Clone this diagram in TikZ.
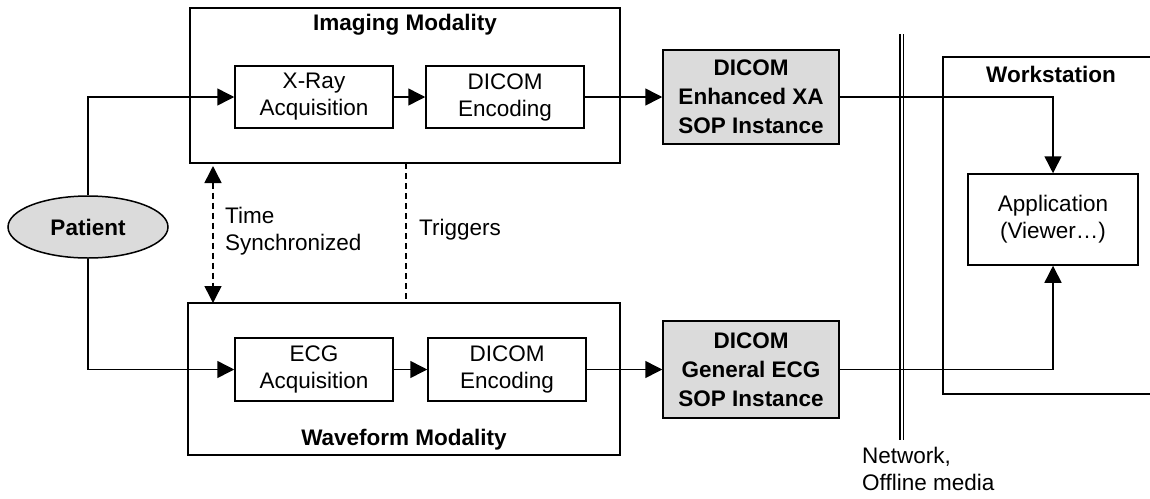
\documentclass[tikz,border=0pt]{standalone}
\usepackage{fontspec}
\setmainfont{Liberation Sans}
\usetikzlibrary{shapes.geometric,arrows.meta}
\begin{document}
\begin{tikzpicture}[x=1pt,y=-1pt,
  >={Triangle[length=17pt,width=17pt]},
  every node/.style={font=\fontsize{22.5}{27}\selectfont},
  proc/.style={draw,line width=1.5pt,minimum width=158pt,minimum height=62pt,align=center,inner sep=2pt},
  sop/.style={draw,line width=1.5pt,fill=black!14,minimum width=176pt,align=center,inner sep=2pt,
    font=\fontsize{22.5}{29}\selectfont\bfseries},
  frame/.style={draw,line width=1.5pt,inner sep=0pt},
  title/.style={font=\fontsize{22.5}{27}\selectfont\bfseries},
  lbl/.style={anchor=west,align=left,inner sep=0pt},
  conn/.style={line width=1.5pt,->},
  sync/.style={line width=1.5pt,dash pattern=on 6pt off 4pt},
]
\useasboundingbox (0,0) rectangle (1150,498);

% modality frames
\node[frame,minimum width=430pt,minimum height=155pt] (imaging) at (405,85.5) {};
\node[frame,minimum width=432pt,minimum height=152pt] (waveform) at (404,379) {};
\node[title] (imgtitle) at (405,25) {Imaging Modality};
\node[title] (wavtitle) at (404,440) {Waveform Modality};

% processing steps
\node[proc] (xray) at (314,97) {X-Ray\\Acquisition};
\node[proc] (enc1) at (505,97) {DICOM\\Encoding};
\node[proc,minimum height=63pt] (ecg) at (314,369.5) {ECG\\Acquisition};
\node[proc,minimum height=63pt] (enc2) at (507,369.5) {DICOM\\Encoding};

% SOP instances
\node[sop,minimum height=94pt] (xa) at (751,97) {DICOM\\Enhanced XA\\SOP Instance};
\node[sop,minimum height=97pt] (gecg) at (751,369.5) {DICOM\\General ECG\\SOP Instance};

% patient
\node[ellipse,draw,line width=1.5pt,fill=black!14,minimum width=160pt,minimum height=62pt,
  font=\fontsize{22.5}{27}\selectfont\bfseries] (patient) at (88,227) {Patient};

% network boundary
\coordinate (nettop) at (901.5,34);
\coordinate (netbot) at (901.5,440);
\draw[line width=1.2pt,double,double distance=2pt] (nettop) -- (netbot);
\node[lbl] (nettext) at (862,469) {Network,\\Offline media};

% workstation (open to the right)
\coordinate (wsTR) at (1151,57);
\coordinate (wsTL) at (943,57);
\coordinate (wsBL) at (943,394);
\coordinate (wsBR) at (1151,394);
\draw[line width=1.5pt] (wsTR) -- (wsTL) -- (wsBL) -- (wsBR);
\node[title] (wstitle) at (1051,74) {Workstation};
\node[proc,minimum width=170pt,minimum height=91pt] (app) at (1053,219.5) {Application\\(Viewer\ldots)};

% data flow
\draw[conn] (patient.north) |- (xray.west);
\draw[conn] (patient.south) |- (ecg.west);
\draw[conn] (xray) -- (enc1);
\draw[conn] (enc1) -- (xa);
\draw[conn] (ecg) -- (enc2);
\draw[conn] (enc2) -- (gecg);
\draw[conn] (xa.east) -| (app.north);
\draw[conn] (gecg.east) -| (app.south);

% synchronisation and triggers
\coordinate (synctop) at (213,166);
\coordinate (syncbot) at (213,303);
\draw[sync,<->] (synctop) -- (syncbot);
\node[lbl] (synctext) at (225,231) {Time\\Synchronized};
\coordinate (trigtop) at (406,163);
\coordinate (trigbot) at (406,303);
\draw[sync] (trigtop) -- (trigbot);
\node[lbl] (trigtext) at (419,230) {Triggers};
\end{tikzpicture}
\end{document}
